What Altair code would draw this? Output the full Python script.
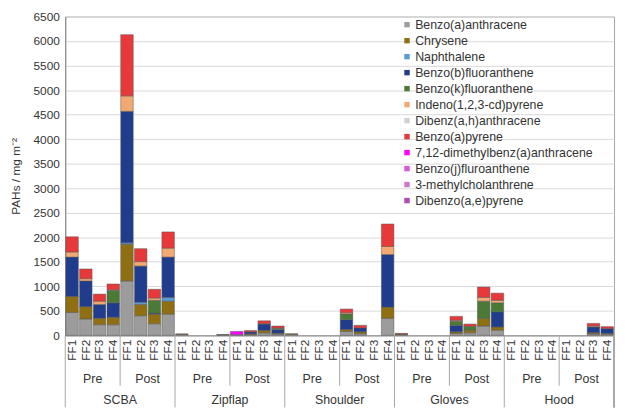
import altair as alt
import pandas as pd

groups = ["SCBA", "Zipflap", "Shoulder", "Gloves", "Hood"]
periods = ["Pre", "Post"]
ffs = ["FF1", "FF2", "FF3", "FF4"]
keys = [f"{g}|{p}|{f}" for g in groups for p in periods for f in ffs]

compounds = [
    "Benzo(a)anthracene", "Chrysene", "Naphthalene", "Benzo(b)fluoranthene",
    "Benzo(k)fluoranthene", "Indeno(1,2,3-cd)pyrene", "Dibenz(a,h)anthracene",
    "Benzo(a)pyrene", "7,12-dimethylbenz(a)anthracene", "Benzo(j)fluroanthene",
    "3-methylcholanthrene", "Dibenzo(a,e)pyrene",
]
colors = [
    "#9c9c9c", "#8f6f12", "#5b9bd5", "#1f3d8c", "#4b7a37", "#f4a872",
    "#d0d0d0", "#e8393a", "#ff00ff", "#d957d9", "#cc77cc", "#b04ab0",
]

# one value per bar, in the order of `keys` (SCBA Pre FF1 ... Hood Post FF4)
baa = [467, 335, 217, 217, 1109, 400, 236, 433,
       20, 0, 0, 10, 13, 15, 50, 25,
       20, 0, 0, 0, 80, 33, 0, 348,
       15, 0, 0, 0, 40, 52, 190, 105,
       0, 0, 0, 0, 0, 0, 28, 20]
chrysene = [327, 250, 131, 151, 749, 230, 197, 263,
            10, 0, 0, 8, 0, 15, 50, 20,
            13, 0, 0, 0, 40, 39, 0, 229,
            10, 0, 0, 0, 32, 53, 158, 66,
            0, 0, 0, 0, 0, 0, 25, 19]
naphthalene = [0, 0, 0, 0, 30, 46, 0, 78,
               0, 0, 0, 0, 0, 0, 0, 0,
               0, 0, 0, 0, 0, 0, 0, 0,
               0, 0, 0, 0, 0, 0, 0, 0,
               0, 0, 0, 0, 0, 0, 0, 0]
bbf = [801, 524, 282, 296, 2679, 736, 20, 822,
       0, 0, 0, 0, 0, 40, 130, 70,
       0, 0, 0, 0, 200, 79, 0, 1071,
       0, 0, 0, 0, 131, 0, 0, 308,
       0, 0, 0, 0, 0, 0, 118, 99]
bkf = [0, 0, 0, 250, 0, 0, 262, 0,
       0, 0, 0, 0, 0, 0, 0, 25,
       0, 0, 0, 0, 115, 0, 0, 0,
       0, 0, 0, 0, 85, 79, 348, 184,
       0, 0, 0, 0, 0, 0, 0, 0]
indeno = [105, 47, 66, 15, 315, 91, 47, 183,
          0, 0, 0, 0, 0, 0, 10, 10,
          0, 0, 0, 0, 26, 0, 0, 164,
          0, 0, 0, 0, 20, 0, 79, 52,
          0, 0, 0, 0, 0, 0, 20, 0]
dbaha = [0] * 40
bap = [309, 197, 145, 118, 1248, 264, 177, 329,
       0, 0, 0, 0, 0, 28, 56, 40,
       0, 0, 0, 0, 75, 53, 0, 458,
       15, 0, 0, 0, 79, 46, 210, 145,
       0, 0, 0, 0, 0, 0, 52, 39]
dmba = [0, 0, 0, 0, 0, 0, 0, 0,
        0, 0, 0, 0, 66, 0, 0, 0,
        0, 0, 0, 0, 0, 0, 0, 0,
        0, 0, 0, 0, 0, 0, 0, 0,
        0, 0, 0, 0, 0, 0, 0, 0]
bjf = [0] * 40
mc3 = [0] * 40
dbaep = [0] * 40

series = [baa, chrysene, naphthalene, bbf, bkf, indeno, dbaha, bap, dmba, bjf, mc3, dbaep]

rows = []
for ci, (name, vals) in enumerate(zip(compounds, series)):
    for k, v in zip(keys, vals):
        if v > 0:
            rows.append({"key": k, "compound": name, "order": ci, "value": v})
df = pd.DataFrame(rows)

W, H = 556, 323
font = "Liberation Sans"
x_scale = alt.Scale(domain=keys, paddingInner=0, paddingOuter=0)
x_axis = alt.Axis(title=None, labelExpr="split(datum.value, '|')[2]", labelAngle=270,
                  labelFontSize=12, labelColor="#333", ticks=False, labelPadding=4,
                  domainColor="#888")

bars = alt.Chart(df).mark_bar(width=alt.RelativeBandSize(0.91), stroke="#555",
                              strokeWidth=0.5).encode(
    x=alt.X("key:N", scale=x_scale, axis=x_axis),
    y=alt.Y("sum(value):Q", stack="zero",
            scale=alt.Scale(domain=[0, 6500], nice=False),
            axis=alt.Axis(title="PAHs / mg m⁻²", values=list(range(0, 6501, 500)),
                          format="d", labelFontSize=12, labelColor="#333", ticks=False,
                          labelPadding=6, gridColor="#d9d9d9", domainColor="#888",
                          titleFontSize=12, titleFontWeight="normal",
                          titleColor="#333", titlePadding=11)),
    color=alt.Color("compound:N", sort=compounds,
                    scale=alt.Scale(domain=compounds, range=colors),
                    legend=alt.Legend(title=None, orient="none", legendX=340, legendY=2,
                                      symbolType="square", symbolSize=30,
                                      symbolStrokeWidth=0, labelFontSize=12.5,
                                      labelColor="#333", labelOffset=2,
                                      rowPadding=3.2, labelLimit=300)),
    order=alt.Order("order:Q"),
)

group_starts = pd.DataFrame({"key": [f"{g}|Pre|FF1" for g in groups]})
period_starts = pd.DataFrame({"key": [f"{g}|Post|FF1" for g in groups]})
period_labels = pd.DataFrame({"key": [f"{g}|{p}|FF2" for g in groups for p in periods],
                              "label": [p for g in groups for p in periods]})
group_labels = pd.DataFrame({"key": [f"{g}|Pre|FF4" for g in groups], "label": groups})

group_rules = alt.Chart(group_starts).mark_rule(color="#a6a6a6", strokeWidth=1).encode(
    x=alt.X("key:N", scale=x_scale, axis=x_axis, bandPosition=0),
    y=alt.value(H), y2=alt.value(H + 73),
)
end_rule = alt.Chart(group_starts).mark_rule(color="#a6a6a6", strokeWidth=1).encode(
    x=alt.value(W), y=alt.value(H), y2=alt.value(H + 73),
)
period_rules = alt.Chart(period_starts).mark_rule(color="#a6a6a6", strokeWidth=1).encode(
    x=alt.X("key:N", scale=x_scale, axis=x_axis, bandPosition=0),
    y=alt.value(H), y2=alt.value(H + 51),
)
period_text = alt.Chart(period_labels).mark_text(font=font, fontSize=12.5, color="#333",
                                                 baseline="middle").encode(
    x=alt.X("key:N", scale=x_scale, axis=x_axis, bandPosition=1),
    y=alt.value(H + 44),
    text="label:N",
)
group_text = alt.Chart(group_labels).mark_text(font=font, fontSize=12.5, color="#333",
                                               baseline="middle").encode(
    x=alt.X("key:N", scale=x_scale, axis=x_axis, bandPosition=1),
    y=alt.value(H + 66),
    text="label:N",
)

chart = alt.layer(bars, group_rules, end_rule, period_rules, period_text, group_text).properties(
    width=W, height=H,
    autosize=alt.AutoSizeParams(type="none"),
    padding={"left": 58, "top": 6, "right": 3, "bottom": 73},
).configure_view(stroke="#a6a6a6").configure_axis(
    labelFont=font, titleFont=font
).configure_legend(labelFont=font)

chart.save("out.html", embed_options={"renderer": "svg", "actions": False})
